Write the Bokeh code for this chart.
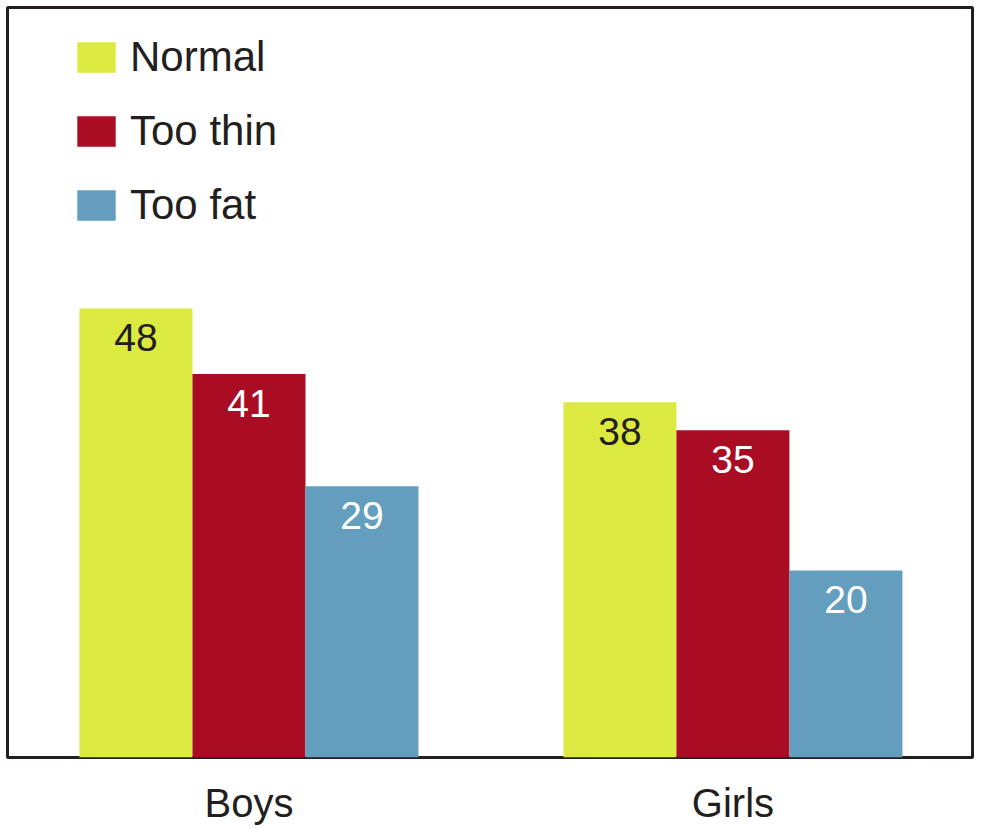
from bokeh.plotting import figure
from bokeh.models import ColumnDataSource, Range1d, FixedTicker, Legend, LegendItem
from bokeh.core.properties import value
from bokeh.embed import file_html
from bokeh.resources import INLINE

groups = ["Boys", "Girls"]
series = ["Normal", "Too thin", "Too fat"]
values = {
    "Normal": [48, 38],
    "Too thin": [41, 35],
    "Too fat": [29, 20],
}
colors = {"Normal": "#dbe941", "Too thin": "#a90d23", "Too fat": "#639ebe"}
label_colors = {"Normal": "#231f20", "Too thin": "#ffffff", "Too fat": "#ffffff"}

FONT = "Liberation Sans"
group_centers = [2.137, 6.420]
offsets = [-1.0, 0.0, 1.0]

p = figure(width=982, height=827, output_backend="svg", toolbar_location=None,
           x_range=Range1d(0, 8.540), y_range=Range1d(0, 80.2),
           min_border_left=7, min_border_top=7, min_border_right=10, min_border_bottom=60)
p.background_fill_color = "white"
p.border_fill_color = "white"
p.outline_line_color = "#231f20"
p.outline_line_width = 3
p.grid.visible = False
p.yaxis.visible = False

items = []
for s, off in zip(series, offsets):
    xs = [c + off for c in group_centers]
    src = ColumnDataSource(dict(x=xs, top=values[s], txt=[str(v) for v in values[s]]))
    r = p.vbar(x="x", top="top", bottom=0, width=1.0, source=src,
               fill_color=colors[s], line_color=None)
    p.text(x="x", y="top", text="txt", source=src, y_offset=29,
           text_align="center", text_baseline="middle",
           text_font=value(FONT), text_font_size="39px", text_color=label_colors[s])
    items.append(LegendItem(label=s, renderers=[r]))

legend = Legend(items=items, margin=0, padding=0,
                glyph_width=48, glyph_height=38, label_standoff=10,
                label_text_font=FONT, label_text_font_size="42px", label_text_color="#231f20",
                label_height=30, spacing=26, border_line_color=None, background_fill_alpha=0)
legend.location = (65, 528)
p.add_layout(legend)

ax = p.xaxis[0]
ax.ticker = FixedTicker(ticks=group_centers)
ax.major_label_overrides = {group_centers[i]: g for i, g in enumerate(groups)}
ax.axis_line_color = None
ax.major_tick_line_color = None
ax.minor_tick_line_color = None
ax.major_tick_out = 0
ax.major_tick_in = 0
ax.major_label_standoff = 23
ax.major_label_text_font = FONT
ax.major_label_text_font_size = "40px"
ax.major_label_text_color = "#231f20"

open("out.html", "w").write(file_html(p, INLINE))
